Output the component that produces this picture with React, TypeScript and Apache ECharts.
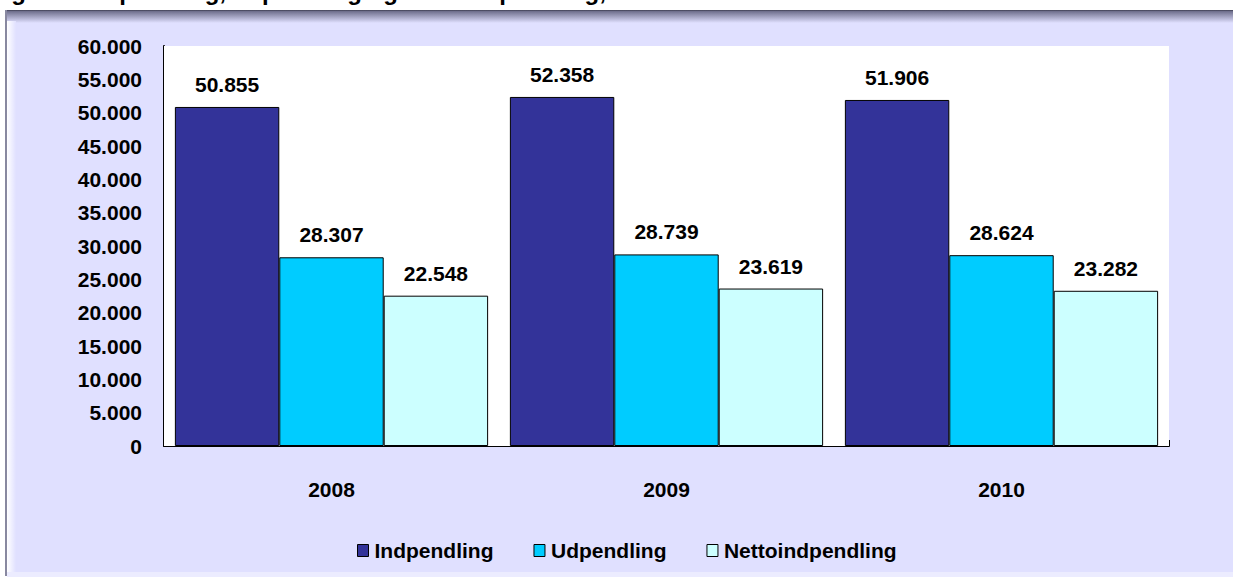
import React, { useEffect, useRef } from "react";
import * as echarts from "echarts";

const categories = ["2008", "2009", "2010"];
const seriesNames = ["Indpendling", "Udpendling", "Nettoindpendling"];
const indpendling = [50855, 52358, 51906];
const udpendling = [28307, 28739, 28624];
const nettoindpendling = [22548, 23619, 23282];
const seriesColors = ["#333399", "#00CCFF", "#CCFFFF"];
const yMin = 0;
const yMax = 60000;
const yInterval = 5000;
const titleText = "Figur 4. Indpendling, udpendling og nettoindpendling, kommunen 2008-2010";

const FONT = "'Liberation Sans', Arial, Helvetica, sans-serif";
const fmt = (v: number) => String(Math.round(v)).replace(/\B(?=(\d{3})+(?!\d))/g, ".");

export default function App() {
  const ref = useRef<HTMLDivElement>(null);
  useEffect(() => {
    document.body.style.margin = "0";
    if (!ref.current) return;
    const chart = echarts.init(ref.current, undefined, { renderer: "svg" });
    const values = [indpendling, udpendling, nettoindpendling];
    chart.setOption({
      animation: false,
      backgroundColor: "#ffffff",
      textStyle: { fontFamily: FONT },
      graphic: [
        { type: "rect", z: -100, shape: { x: 5, y: 10, width: 1228, height: 566 }, style: { fill: "#E0E0FF" } },
        {
          type: "rect", z: -99, shape: { x: 5, y: 10, width: 1228, height: 13 },
          style: {
            fill: new echarts.graphic.LinearGradient(0, 0, 0, 1, [
              { offset: 0, color: "#3c3c50" },
              { offset: 0.12, color: "#727290" },
              { offset: 1, color: "#E0E0FF" },
            ]),
          },
        },
        { type: "rect", z: -98, shape: { x: 5, y: 10, width: 2, height: 566 }, style: { fill: "#8888a0" } },
        {
          type: "rect", z: -98, shape: { x: 7, y: 21, width: 9, height: 555 },
          style: {
            fill: new echarts.graphic.LinearGradient(0, 0, 1, 0, [
              { offset: 0, color: "#ffffff" },
              { offset: 1, color: "#E0E0FF" },
            ]),
          },
        },
        { type: "rect", z: -98, shape: { x: 7, y: 572, width: 1226, height: 5 }, style: { fill: "#ECECFF" } },
        {
          type: "text", z: 10, x: -10, y: 3,
          style: { text: titleText, font: `bold 24px ${FONT}`, fill: "#000", align: "left", verticalAlign: "bottom" },
        },
      ],
      grid: {
        left: 164, right: 65, top: 46, bottom: 136,
        show: true, backgroundColor: "#ffffff", borderWidth: 0, z: 2,
      },
      legend: {
        left: 352, top: 535,
        icon: "rect", itemWidth: 11, itemHeight: 12, itemGap: 40,
        data: seriesNames,
        textStyle: { fontFamily: FONT, fontWeight: "bold", fontSize: 21, color: "#000", padding: [0, 0, 0, 1] },
        itemStyle: { borderColor: "#000", borderWidth: 1 },
      },
      xAxis: {
        type: "category",
        data: categories,
        axisLine: { show: true, lineStyle: { color: "#000", width: 2 } },
        axisTick: { show: true, inside: true, length: 6, alignWithLabel: false, lineStyle: { color: "#000", width: 2 } },
        axisLabel: { fontFamily: FONT, fontWeight: "bold", fontSize: 21, color: "#000", margin: 33 },
        splitLine: { show: false },
      },
      yAxis: {
        type: "value",
        min: yMin, max: yMax, interval: yInterval,
        axisLine: { show: true, lineStyle: { color: "#000", width: 2 } },
        axisTick: { show: false },
        splitLine: { show: false },
        axisLabel: { fontFamily: FONT, fontWeight: "bold", fontSize: 21, color: "#000", margin: 22, formatter: (v: number) => fmt(v) },
      },
      series: seriesNames.map((name, i) => ({
        name,
        type: "bar",
        data: values[i],
        barGap: "0%",
        barCategoryGap: "6.5%",
        itemStyle: { color: seriesColors[i], borderColor: "#000", borderWidth: 1 },
        label: {
          show: true, position: "top", distance: 12,
          fontFamily: FONT, fontWeight: "bold", fontSize: 21, color: "#000",
          formatter: (p: any) => fmt(p.value),
        },
      })),
    });
    return () => chart.dispose();
  }, []);
  return <div ref={ref} style={{ width: 1234, height: 582 }} />;
}
